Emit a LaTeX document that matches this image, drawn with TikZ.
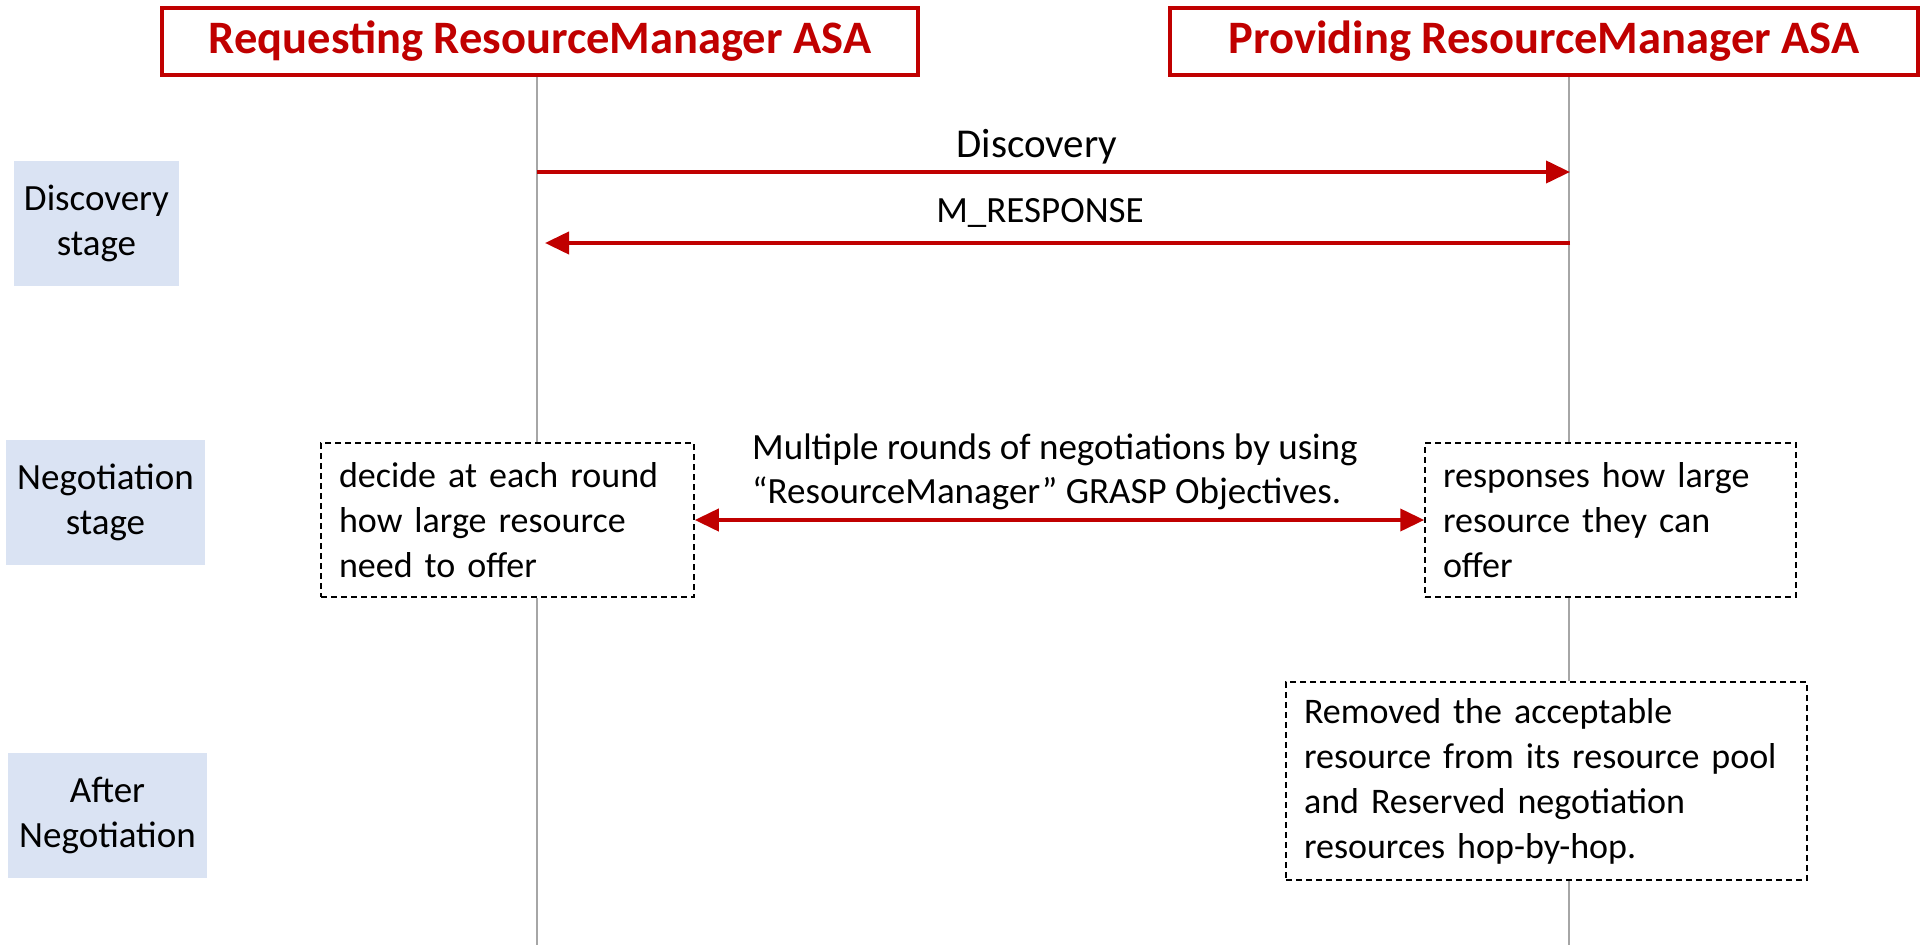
\documentclass[tikz,border=0pt]{standalone}
\usepackage{fontspec}
\setmainfont{Carlito}
\usetikzlibrary{arrows.meta,backgrounds}
\definecolor{rd}{HTML}{C00000}
\definecolor{stagefill}{HTML}{DAE3F3}
\definecolor{lifegray}{HTML}{A6A6A6}
\begin{document}
\begin{tikzpicture}[x=1pt,y=-1pt,
 header/.style={draw=rd, line width=4.5pt, text=rd, font=\fontsize{46.5}{55}\selectfont\bfseries, minimum height=67pt, inner sep=0pt},
 stage/.style={fill=stagefill, minimum width=199pt, minimum height=125pt, align=center, font=\fontsize{37}{45}\selectfont, inner sep=0pt},
 note/.style={draw=black, dash pattern=on 6pt off 4pt, line width=1.5pt, align=left, font=\fontsize{36}{45}\selectfont, inner xsep=18pt, inner ysep=0pt},
 life/.style={draw=lifegray, line width=1.5pt},
 msg/.style={draw=rd, line width=4pt, -{Triangle[length=24pt,width=22pt]}},
 lbl/.style={font=\fontsize{37}{45}\selectfont, inner sep=0pt}
]
\useasboundingbox (0,0) rectangle (1923,945);
\node[header, minimum width=756pt] (hL) at (540,41.5) {Requesting ResourceManager ASA};
\node[header, minimum width=748pt] (hR) at (1544,41.5) {Providing ResourceManager ASA};

\node[stage, minimum width=165pt] (sD) at (96.5,223.5) {Discovery\\stage};
\node[stage] (sN) at (105.5,502.5) {Negotiation\\stage};
\node[stage] (sA) at (107.5,815.5) {After\\Negotiation};

\node[note, text width=337pt, minimum height=154pt] (nL) at (507.5,520) {decide at each round\\how large resource\\need to offer};
\node[note, text width=335pt, minimum height=154pt] (nR) at (1610.5,520) {responses how large\\resource they can\\offer};
\node[note, text width=485pt, minimum height=198pt] (nB) at (1546.5,781) {Removed the acceptable\\resource from its resource pool\\and Reserved negotiation\\resources hop-by-hop.};

\coordinate (lLb) at (537,945);
\coordinate (lRb) at (1569,945);
\begin{pgfonlayer}{background}
\draw[life] (hL.south -| lLb) -- (nL.north -| lLb);
\draw[life] (nL.south -| lLb) -- (lLb);
\draw[life] (hR.south -| lRb) -- (nR.north -| lRb);
\draw[life] (nR.south -| lRb) -- (nB.north -| lRb);
\draw[life] (nB.south -| lRb) -- (lRb);
\end{pgfonlayer}

\coordinate (dS) at (537,172);
\coordinate (dE) at (1570,172);
\draw[msg] (dS) -- (dE);
\coordinate (mS) at (1570,243);
\coordinate (mE) at (545,243);
\draw[msg] (mS) -- (mE);
\node[lbl, font=\fontsize{41}{49}\selectfont] (tD) at (1037,147) {Discovery};
\node[lbl] (tM) at (1040,213) {M\_RESPONSE};

\draw[msg, {Triangle[length=24pt,width=22pt]}-{Triangle[length=24pt,width=22pt]}] (nL.east) -- (nR.west);
\node[lbl, anchor=west, align=left, font=\fontsize{37}{44}\selectfont] (tN) at (752,472) {Multiple rounds of negotiations by using\\“ResourceManager” GRASP Objectives.};
\end{tikzpicture}
\end{document}
